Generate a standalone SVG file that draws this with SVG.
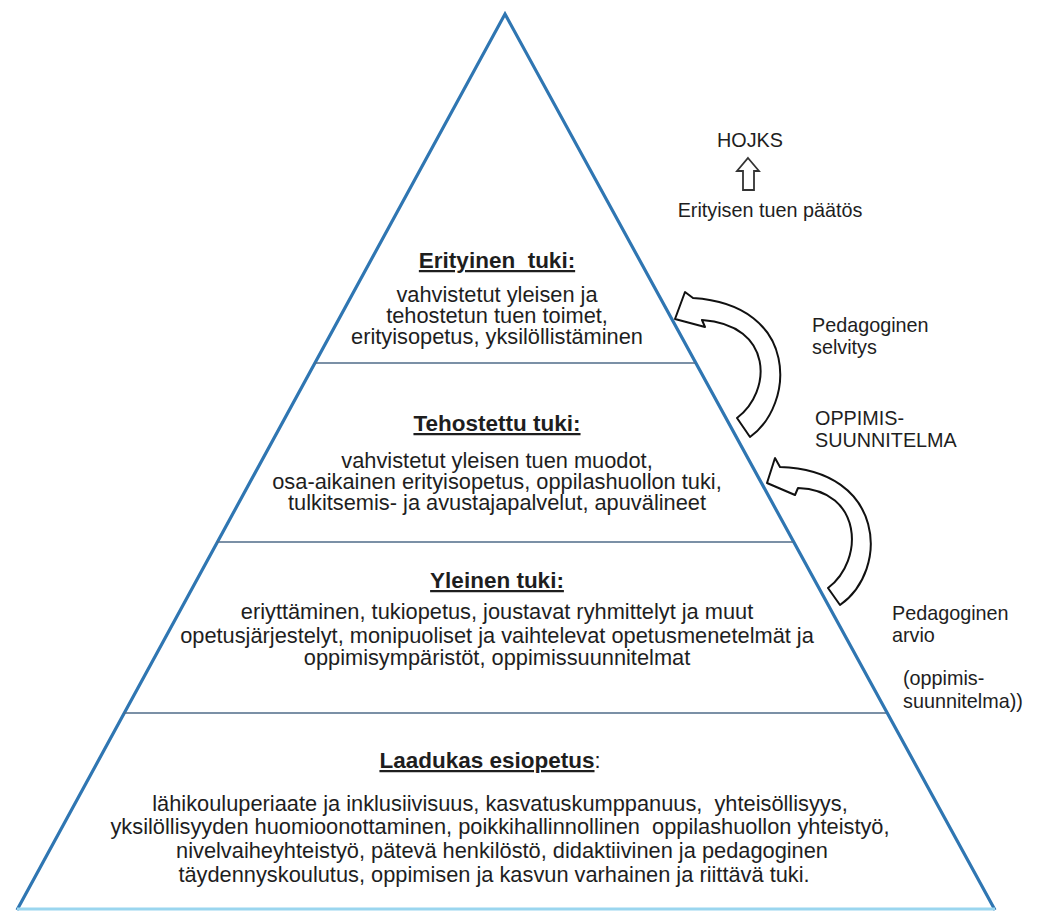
<svg xmlns="http://www.w3.org/2000/svg" width="1040" height="911" viewBox="0 0 1040 911">
<style>
text{font-family:"Liberation Sans",Arial,sans-serif;fill:#1e1e1e;}
.t{font-size:21.8px;text-anchor:middle;}
.h{font-size:22.5px;font-weight:bold;text-anchor:middle;text-decoration:underline;}
.s{font-size:19.8px;}
.div{stroke:#4f6b88;stroke-width:1.6;}
.arr{fill:#fff;stroke:#111;stroke-width:2;stroke-linejoin:round;}
</style>
<rect width="1040" height="911" fill="#fff"/>
<g id="pyramid">
<polyline points="17,910 505,14 995,910" fill="#fff" stroke="#2f76b2" stroke-width="3.2" stroke-linejoin="miter"/>
<line x1="17" y1="909" x2="995" y2="909" stroke="#9ad6ef" stroke-width="3"/>
<line class="div" x1="315" y1="363" x2="695" y2="363"/>
<line class="div" x1="217" y1="542" x2="793" y2="542"/>
<line class="div" x1="124" y1="713" x2="886" y2="713"/>
</g>
<g id="level-erityinen">
<text class="h" x="497" y="268" xml:space="preserve">Erityinen  tuki:</text>
<text class="t" x="497" y="302">vahvistetut yleisen ja</text>
<text class="t" x="497" y="323">tehostetun tuen toimet,</text>
<text class="t" x="497" y="344">erityisopetus, yksilöllistäminen</text>
</g>
<g id="level-tehostettu">
<text class="h" x="497" y="431">Tehostettu tuki:</text>
<text class="t" x="497" y="468">vahvistetut yleisen tuen muodot,</text>
<text class="t" x="497" y="489">osa-aikainen erityisopetus, oppilashuollon tuki,</text>
<text class="t" x="497" y="510">tulkitsemis- ja avustajapalvelut, apuvälineet</text>
</g>
<g id="level-yleinen">
<text class="h" x="497" y="588">Yleinen tuki:</text>
<text class="t" x="497" y="619">eriyttäminen, tukiopetus, joustavat ryhmittelyt ja muut</text>
<text class="t" x="497" y="643">opetusjärjestelyt, monipuoliset ja vaihtelevat opetusmenetelmät ja</text>
<text class="t" x="497" y="665">oppimisympäristöt, oppimissuunnitelmat</text>
</g>
<g id="level-laadukas">
<text class="t" x="490" y="768"><tspan font-weight="bold" font-size="22.5px" text-decoration="underline">Laadukas esiopetus</tspan>:</text>
<text class="t" x="500" y="811" xml:space="preserve">lähikouluperiaate ja inklusiivisuus, kasvatuskumppanuus,  yhteisöllisyys,</text>
<text class="t" x="500" y="834" xml:space="preserve">yksilöllisyyden huomioonottaminen, poikkihallinnollinen  oppilashuollon yhteistyö,</text>
<text class="t" x="502" y="858">nivelvaiheyhteistyö, pätevä henkilöstö, didaktiivinen ja pedagoginen</text>
<text class="t" x="494" y="882">täydennyskoulutus, oppimisen ja kasvun varhainen ja riittävä tuki.</text>
</g>
<g id="hojks">
<text class="s" x="750" y="147" text-anchor="middle">HOJKS</text>
<polygon points="748,158 759,171 754,171 754,190 743,190 743,171 737,171" fill="#fff" stroke="#333" stroke-width="1.8" stroke-linejoin="miter"/>
<text class="s" x="770" y="217" text-anchor="middle">Erityisen tuen päätös</text>
</g>
<g id="labels">
<text class="s" x="812" y="332">Pedagoginen</text>
<text class="s" x="812" y="354">selvitys</text>
<text class="s" x="815" y="425">OPPIMIS-</text>
<text class="s" x="815" y="447">SUUNNITELMA</text>
<text class="s" x="892" y="620">Pedagoginen</text>
<text class="s" x="892" y="642">arvio</text>
<text class="s" x="903" y="685">(oppimis-</text>
<text class="s" x="903" y="708">suunnitelma))</text>
</g>
<g id="connectors">
<path class="arr" d="M750,437 C795,405 800,305 693,298 L685,292 L675,319 L705,327 L702,320 C774,325 772,392 737,418 Z"/>
<path class="arr" d="M840,605 C890,570 885,470 780,467 L775,458 L767,483 L795,495 L798,488 C862,490 865,560 828,588 Z"/>
</g>
</svg>
